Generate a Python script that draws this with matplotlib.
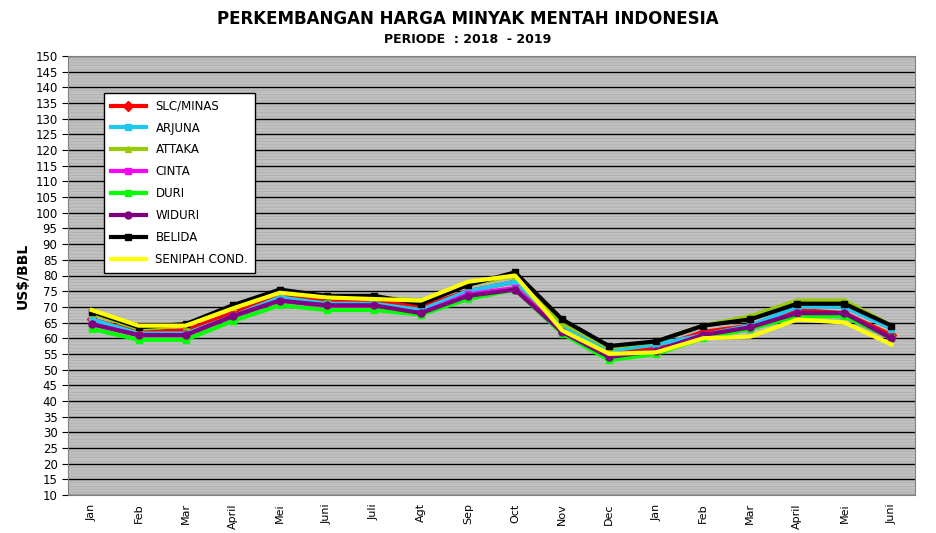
import matplotlib
matplotlib.use("Agg")
import matplotlib.pyplot as plt
import numpy as np

months = ["Jan","Feb","Mar","April","Mei","Juni","Juli","Agt","Sep","Oct","Nov","Dec",
          "Jan","Feb","Mar","April","Mei","Juni"]
slc     = [66,62,62.5,68,73.5,72,72,70,75,78,63,55,57,62,64,69,68,61]
arjuna  = [66,61.5,61.5,67,73,71,71,69,75,78,64,56,58,61,64,70,70,63]
attaka  = [68,63,64,70,75,73,73,72,77,80,65,57,59,64,67,72,72,64]
cinta   = [64.5,61,61,67,72,70,70,68,74,76,62,54,56,61,63,68,67,60]
duri    = [63,59.5,59.5,65.5,70.5,69,69,67.5,72.5,75.5,61.5,53,55,60,63,67,67,60]
widuri  = [64.5,61,61,67,72,70.5,70.5,68,73.5,75.5,62,54,56,61,63.5,68,68,60]
belida  = [68.5,63.5,64.5,70.5,75.5,73.5,73.5,71,77,81,66,57.5,59,64,66,71,71,64]
senipah = [69,64,64,69.5,74.5,73,72.5,72,78,80,62.5,55,55.5,60,60.5,66,65,58]

series = [
    ("SLC/MINAS", slc, "#ff0000", "D"),
    ("ARJUNA", arjuna, "#1ec8f0", "s"),
    ("ATTAKA", attaka, "#99cc00", "^"),
    ("CINTA", cinta, "#ff00ff", "s"),
    ("DURI", duri, "#00ff00", "s"),
    ("WIDURI", widuri, "#800080", "o"),
    ("BELIDA", belida, "#000000", "s"),
    ("SENIPAH COND.", senipah, "#ffff00", None),
]

fig = plt.figure(figsize=(9.36, 5.33), dpi=100)
ax = fig.add_axes([68/936, 38/533, (915-68)/936, (495-56)/533])
ax.set_facecolor("#c0c0c0")
x = np.arange(len(months))
# stripe texture
for yy in np.arange(10, 150, 1.0):
    ax.axhline(yy, color="#b0b0b0", lw=0.5, zorder=0)
for yy in np.arange(10, 151, 5):
    ax.axhline(yy, color="black", lw=1, zorder=1)
order = [4, 5, 3, 0, 1, 2, 6, 7]
for i in order:
    name, vals, c, m = series[i]
    ax.plot(x, vals, color=c, lw=3, marker=m, ms=5, zorder=3+i)
handles = [plt.Line2D([], [], color=c, lw=3, marker=m, ms=5) for _, _, c, m in series]
leg = ax.legend(handles, [s[0] for s in series], loc="upper left",
                bbox_to_anchor=(0.035, 0.93), fancybox=False, framealpha=1,
                edgecolor="black", fontsize=8.5, handlelength=3, labelspacing=0.75,
                borderpad=0.6)
leg.get_frame().set_linewidth(1)
ax.set_xlim(-0.5, len(months)-0.5)
ax.set_ylim(10, 150)
ax.set_yticks(np.arange(10, 151, 5))
ax.tick_params(axis="y", labelsize=8.5, direction="out", length=4)
ax.set_xticks(x)
ax.set_xticklabels(months, rotation=90, fontsize=8)
ax.tick_params(axis="x", length=0, pad=6)
ax.set_ylabel("US$/BBL", fontsize=10, fontweight="bold")
for s in ax.spines.values():
    s.set_color("#808080")
fig.text(0.5, 0.965, "PERKEMBANGAN HARGA MINYAK MENTAH INDONESIA", ha="center",
         va="center", fontsize=12, fontweight="bold")
fig.text(0.5, 0.925, "PERIODE  : 2018  - 2019", ha="center", va="center",
         fontsize=9, fontweight="bold")
fig.savefig("out.png", dpi=100)
